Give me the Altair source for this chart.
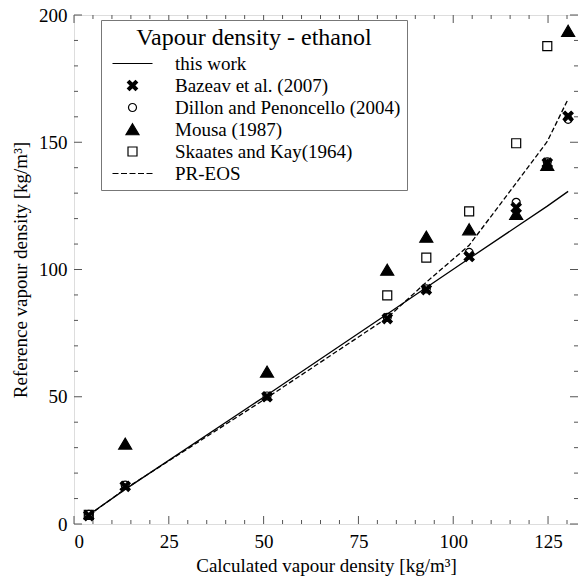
import altair as alt
import pandas as pd

# ---- data ----
x_calc = [3.9, 13.5, 50.9, 82.6, 92.9, 104.2, 116.6, 124.8, 130.3]
bazeav = [3.3, 14.8, 50.0, 80.7, 92.1, 105.1, 124.3, 141.8, 160.2]
dillon = [3.8, 15.3, 50.3, 81.2, 92.4, 106.7, 126.4, 142.3, 159.0]
mousa = [None, 31.5, 59.8, 99.8, 112.8, 115.7, 121.7, 141.0, 193.7]
skaates = [3.6, None, None, 89.8, 104.7, 122.8, 149.6, 187.8, None]
this_work = [3.6, 13.6, 50.7, 82.5, 92.9, 104.3, 116.7, 124.9, 130.7]
pr_eos = [3.4, 13.8, 49.6, 81.0, 95.0, 109.5, 134.0, 150.3, 167.0]

series = ["this work", "Bazeav et al. (2007)", "Dillon and Penoncello (2004)",
          "Mousa (1987)", "Skaates and Kay(1964)", "PR-EOS"]

x_major = [0, 25, 50, 75, 100, 125]
x_minor = [5, 10, 15, 20, 30, 35, 40, 45, 55, 60, 65, 70, 80, 85, 90, 95,
           105, 110, 115, 120, 130]
y_major = [0, 50, 100, 150, 200]
y_minor = [10, 20, 30, 40, 60, 70, 80, 90, 110, 120, 130, 140, 160, 170, 180, 190]

# ---- tables ----
rows = []
for name, vals in [(series[1], bazeav), (series[2], dillon),
                   (series[3], mousa), (series[4], skaates)]:
    for xv, yv in zip(x_calc, vals):
        if yv is not None:
            rows.append({"x": xv, "y": yv, "series": name})
pts = pd.DataFrame(rows)
tw = pd.DataFrame({"x": x_calc, "y": this_work})
pr = pd.DataFrame({"x": x_calc, "y": pr_eos})

W, H = 504, 509
FONT = "Liberation Serif"
AX = "#555555"

xs = alt.Scale(domain=[0, 132.9], nice=False, zero=False)
ys = alt.Scale(domain=[0, 200], nice=False, zero=False)

xaxis = alt.Axis(values=x_major, title="Calculated vapour density [kg/m³]",
                 labelPadding=8, titlePadding=5)
yaxis = alt.Axis(values=y_major, title="Reference vapour density [kg/m³]",
                 labelPadding=7, titlePadding=8)

shapes = [
    "M-4,0L4,0",
    "M-1,-0.6L-0.6,-1L0,-0.4L0.6,-1L1,-0.6L0.4,0L1,0.6L0.6,1L0,0.4L-0.6,1L-1,0.6L-0.4,0Z",
    "M0.8,0A0.8,0.8 0 1,1 -0.8,0A0.8,0.8 0 1,1 0.8,0Z",
    "M0,-1.15L1.3,1.05L-1.3,1.05Z",
    "M-0.9,-0.9L0.9,-0.9L0.9,0.9L-0.9,0.9Z",
    "M-4,0L-2.8,0M-2.3,0L-1.1,0M-0.6,0L0.6,0M1.1,0L2.3,0M2.8,0L4,0",
]
fills = ["transparent", "black", "transparent", "black", "transparent", "transparent"]
strokes = ["black"] * 6

leg = alt.Legend(
    title="Vapour density - ethanol", orient="none",
    legendX=27, legendY=5, direction="vertical",
    strokeColor="#777777", fillColor="white", padding=6,
    titleFont=FONT, titleFontSize=24, titleFontWeight="normal", titleColor="black",
    titleAnchor="middle", titlePadding=4, titleLimit=500,
    labelFont=FONT, labelFontSize=19, labelColor="black", labelLimit=400,
    symbolSize=100, symbolStrokeWidth=1.2,
    symbolOffset=16, labelOffset=33, rowPadding=2,
)

line_tw = alt.Chart(tw).mark_line(color="black", strokeWidth=1.3).encode(
    x=alt.X("x:Q", scale=xs, axis=xaxis),
    y=alt.Y("y:Q", scale=ys, axis=yaxis),
)
line_pr = alt.Chart(pr).mark_line(color="black", strokeWidth=1.3, strokeDash=[5, 2.5]).encode(
    x=alt.X("x:Q", scale=xs, axis=xaxis),
    y=alt.Y("y:Q", scale=ys, axis=yaxis),
)

points = alt.Chart(pts).mark_point(opacity=1, strokeWidth=1.2, size=100).encode(
    x=alt.X("x:Q", scale=xs, axis=xaxis),
    y=alt.Y("y:Q", scale=ys, axis=yaxis),
    shape=alt.Shape("series:N", scale=alt.Scale(domain=series, range=shapes), legend=leg),
    fill=alt.Fill("series:N", scale=alt.Scale(domain=series, range=fills), legend=leg),
    stroke=alt.Stroke("series:N", scale=alt.Scale(domain=series, range=strokes), legend=leg),
)

def xticks(vals, length):
    d = pd.DataFrame({"x": vals})
    bottom = alt.Chart(d).mark_rule(color=AX, strokeWidth=1).encode(
        x=alt.X("x:Q", scale=xs, axis=xaxis),
        y=alt.value(H), y2=alt.value(H - length))
    top = alt.Chart(d).mark_rule(color=AX, strokeWidth=1).encode(
        x=alt.X("x:Q", scale=xs, axis=xaxis),
        y=alt.value(0), y2=alt.value(length))
    return [bottom, top]

def yticks(vals, length):
    d = pd.DataFrame({"y": vals})
    left = alt.Chart(d).mark_rule(color=AX, strokeWidth=1).encode(
        y=alt.Y("y:Q", scale=ys, axis=yaxis),
        x=alt.value(0), x2=alt.value(length))
    right = alt.Chart(d).mark_rule(color=AX, strokeWidth=1).encode(
        y=alt.Y("y:Q", scale=ys, axis=yaxis),
        x=alt.value(W), x2=alt.value(W - length))
    return [left, right]

layers = [line_tw, line_pr] + xticks(x_major, 8) + xticks(x_minor, 4) \
    + yticks(y_major, 8) + yticks(y_minor, 4) + [points]

chart = alt.layer(*layers).properties(
    width=W, height=H,
    autosize=alt.AutoSizeParams(type="none"),
    padding={"left": 74, "top": 15, "right": 0, "bottom": 55},
).configure_view(stroke=AX, strokeWidth=1).configure(
    background="white"
).configure_axis(
    ticks=False, domain=False, grid=False,
    labelFont=FONT, labelFontSize=19, labelColor="black",
    titleFont=FONT, titleFontSize=19, titleFontWeight="normal", titleColor="black",
).configure_legend(
    titleFontWeight="normal"
)

chart.save("out.html", embed_options={"renderer": "svg", "actions": False})
